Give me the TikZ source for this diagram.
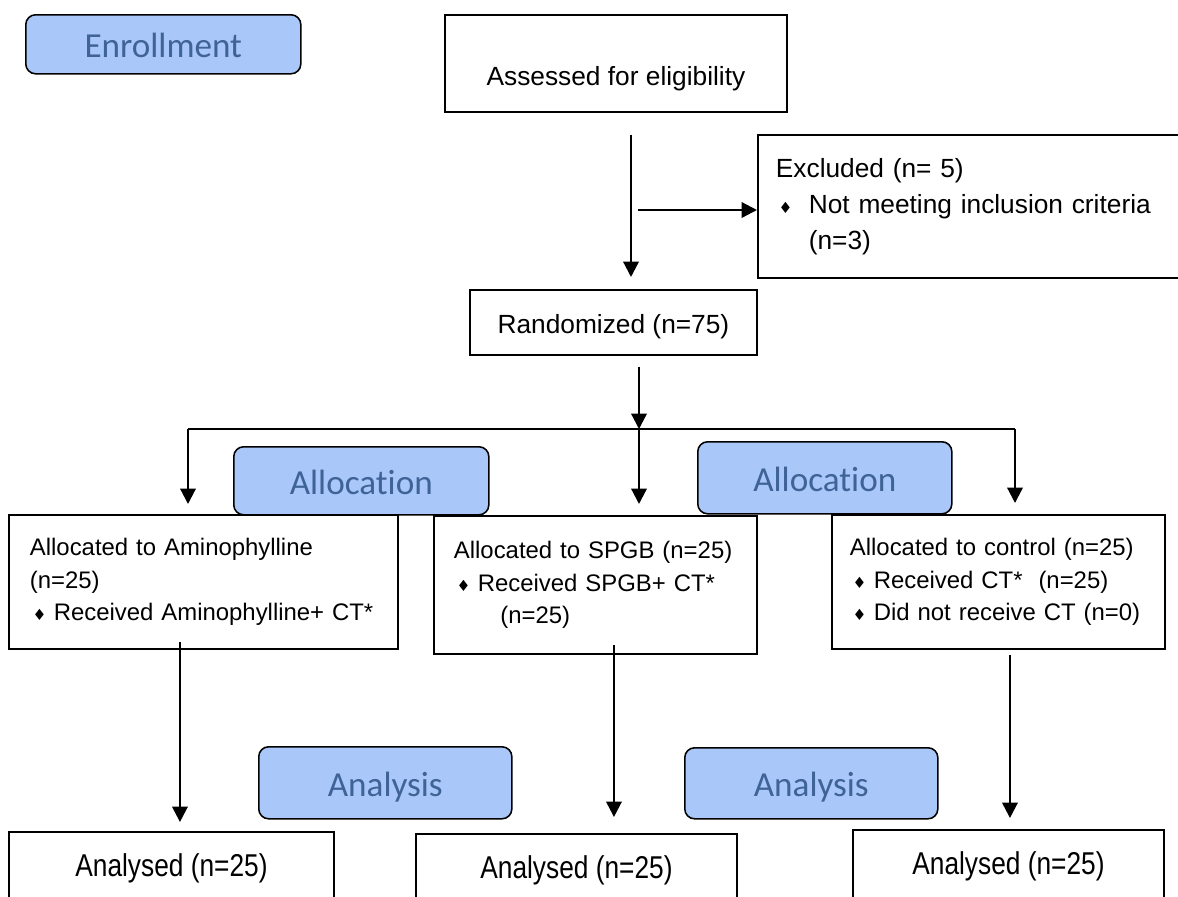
\documentclass[tikz,border=0pt]{standalone}
\usepackage{fontspec}
\usepackage{graphicx}
\setmainfont{Liberation Sans}
\newfontfamily\phasefont[Ligatures={NoCommon,NoRare,NoContextual},Contextuals=NoAlternate]{Carlito}
\newfontfamily\symfont{DejaVu Sans}
\usetikzlibrary{arrows.meta,positioning}
\definecolor{PhaseFill}{RGB}{169,199,249}
\definecolor{PhaseText}{RGB}{63,99,150}
\newcommand\dia{{\symfont\fontsize{11}{11}\selectfont ♦}}
\newcommand\bul[1]{\makebox[#1][l]{\hspace{2pt}\dia}}
\tikzset{
  box/.style={draw,line width=1.3pt,anchor=north west,inner ysep=0pt},
  topfont/.style={font=\fontsize{18.7}{25.5}\selectfont},
  lowbox/.style={box,align=left,font=\fontsize{17}{23}\selectfont},
  anabox/.style={box,minimum height=1.9cm,font=\fontsize{18.7}{22}\selectfont,text height=13pt,text depth=4pt},
  phase/.style={draw,line width=1.1pt,rounded corners=7pt,fill=PhaseFill,anchor=north west,
    text=PhaseText,font=\phasefont\fontsize{25}{30}\selectfont,text height=19.5pt,text depth=0.5pt},
  arr/.style={-{Triangle[length=11pt,width=11pt]},line width=1.6pt}
}
\begin{document}
\begin{tikzpicture}[x=0.025cm,y=-0.025cm]
\useasboundingbox (0,0) rectangle (1178,896);
\clip (0,0) rectangle (1178,896);
% flow boxes
\node[box,topfont,minimum width=8.55cm,minimum height=2.425cm,text height=36pt,text depth=4pt] (assess) at (444,14) {Assessed for eligibility};
\node[box,topfont,align=left,inner xsep=0.45cm,text width=9.925cm,minimum height=3.575cm] (excl) at (757,134)
  {Excluded (n= 5)\\\bul{23.4pt}Not meeting inclusion criteria\\\hspace*{23.4pt}(n=3)};
\node[box,topfont,minimum width=7.175cm,minimum height=1.625cm,text height=20.3pt,text depth=4pt] (rand) at (469,289) {Randomized (n=75)};
\node[lowbox,inner xsep=0.525cm,text width=8.675cm,minimum height=3.35cm] (boxA) at (8,514)
  {Allocated to Aminophylline\\(n=25)\\\bul{17pt}Received Aminophylline+ CT*};
\node[lowbox,inner xsep=0.5cm,text width=7.075cm,minimum height=3.45cm] (boxB) at (433,515)
  {Allocated to SPGB (n=25)\\\bul{17pt}Received SPGB+ CT*\\\hspace*{33pt}(n=25)};
\node[lowbox,inner xsep=0.45cm,text width=7.425cm,minimum height=3.35cm] (boxC) at (831,514)
  {Allocated to control (n=25)\\\bul{17pt}Received CT*~ (n=25)\\\bul{17pt}Did not receive CT (n=0)};
\node[anabox,minimum width=8.125cm] (anaA) at (8,831) {\scalebox{1}[1.2]{Analysed (n=25)}};
\node[anabox,minimum width=8.025cm] (anaB) at (415,833) {\scalebox{1}[1.2]{Analysed (n=25)}};
\node[anabox,minimum width=7.775cm] (anaC) at (852,829) {\scalebox{1}[1.2]{Analysed (n=25)}};
% connectors
\coordinate (trunk) at (631,210);
\coordinate (hub) at (639,429);
\coordinate (busL) at (188,429);
\coordinate (busR) at (1015,429);
\draw[arr,shorten <=0.55cm,shorten >=0.3cm] (assess.south -| trunk) -- (rand.north -| trunk);
\draw[arr,shorten <=0.175cm] (trunk) -- (trunk -| excl.west);
\draw[arr,shorten <=0.275cm] (rand.south -| hub) -- (hub);
\draw[line width=1.6pt] (busL) -- (busR);
\draw[arr,shorten >=0.25cm] (busL) -- (busL |- boxA.north);
\draw[arr,shorten >=0.275cm] (hub) -- (hub |- boxB.north);
\draw[arr,shorten >=0.275cm] (busR) -- (busR |- boxC.north);
\draw[arr,shorten <=-0.2cm,shorten >=0.225cm] ([xshift=-0.5875cm]boxA.south) -- ([xshift=-0.5875cm]boxA.south |- anaA.north);
\draw[arr,shorten <=-0.25cm,shorten >=0.4cm] ([xshift=0.4625cm]boxB.south) -- ([xshift=0.4625cm]boxB.south |- anaB.north);
\draw[arr,shorten <=0.125cm,shorten >=0.275cm] ([xshift=0.2875cm]boxC.south) -- ([xshift=0.2875cm]boxC.south |- anaC.north);
% phase labels
\node[phase,minimum width=6.875cm,minimum height=1.475cm] (enrol) at (25,14) {Enrollment};
\node[phase,minimum width=6.375cm,minimum height=1.7cm] (allocL) at (233,446) {Allocation};
\node[phase,minimum width=6.35cm,minimum height=1.8cm] (allocR) at (697,441) {Allocation};
\node[phase,minimum width=6.325cm,minimum height=1.8cm] (analL) at (258,746) {Analysis};
\node[phase,minimum width=6.325cm,minimum height=1.775cm] (analR) at (684,747) {Analysis};
\end{tikzpicture}
\end{document}
